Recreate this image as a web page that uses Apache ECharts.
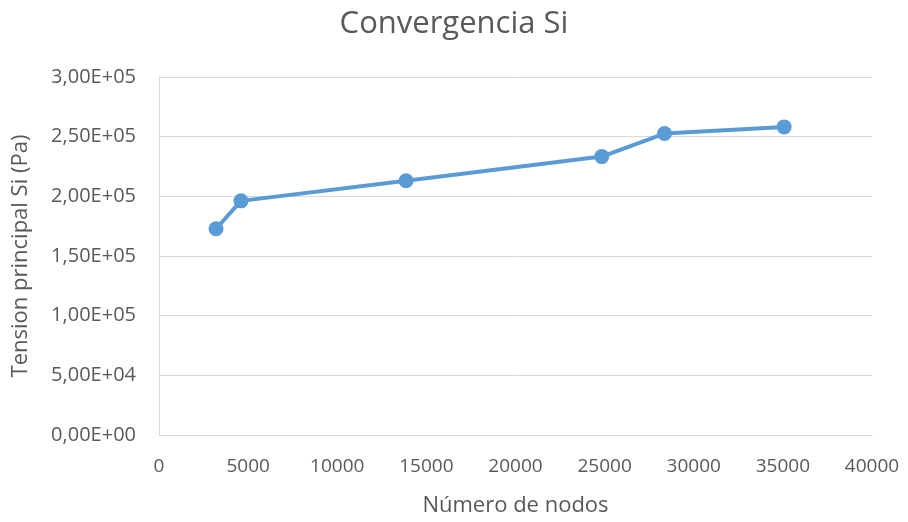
<!DOCTYPE html>
<html>
<head>
<meta charset="utf-8">
<script src="https://cdn.jsdelivr.net/npm/echarts@6/dist/echarts.min.js"></script>
<style>
  html, body { margin: 0; padding: 0; background: #fff; }
  #chart { width: 908px; height: 522px; }
</style>
</head>
<body>
<div id="chart"></div>
<script>
// numero de nodos vs tension principal
const nodos = [3200, 4600, 13860, 24840, 28360, 35070];
const tension = [172800, 196200, 213000, 233300, 252600, 258200];

const pares = nodos.map((n, i) => [n, tension[i]]);

// formato tipo Excel: 2,50E+05
function sci(v) {
    let s = Number(v).toExponential(2).split('e');
    let exp = parseInt(s[1], 10);
    let sign = exp < 0 ? '-' : '+';
    let e = String(Math.abs(exp)).padStart(2, '0');
    return s[0].replace('.', ',') + 'E' + sign + e;
}

const fuente = '"Open Sans", "Noto Sans", sans-serif';
const chart = echarts.init(document.getElementById('chart'));

chart.setOption({
    animation: false,
    title: {
        text: 'Convergencia Si',
        left: 'center',
        top: 4,
        textStyle: { fontFamily: fuente, fontSize: 31, fontWeight: 'normal', color: '#595959' }
    },
    grid: { left: 159, right: 36, top: 77, bottom: 87 },
    xAxis: {
        type: 'value',
        min: 0,
        max: 40000,
        interval: 5000,
        name: 'Número de nodos',
        nameLocation: 'middle',
        nameGap: 60,
        nameTextStyle: { fontFamily: fuente, fontSize: 22, color: '#595959' },
        axisLine: { show: true, lineStyle: { color: '#d9d9d9', width: 1 } },
        axisTick: { show: false },
        splitLine: { show: false },
        axisLabel: { fontFamily: fuente, fontSize: 19, color: '#595959', margin: 22, formatter: v => String(v) }
    },
    yAxis: {
        type: 'value',
        min: 0,
        max: 300000,
        interval: 50000,
        name: 'Tension principal Si (Pa)',
        nameLocation: 'middle',
        nameGap: 127,
        nameTextStyle: { fontFamily: fuente, fontSize: 22, color: '#595959' },
        axisLine: { show: true, lineStyle: { color: '#d9d9d9', width: 1 } },
        axisTick: { show: false },
        splitLine: { lineStyle: { color: '#d9d9d9', width: 1 } },
        axisLabel: { fontFamily: fuente, fontSize: 20, color: '#595959', margin: 23, formatter: sci }
    },
    series: [{
        type: 'line',
        data: pares,
        symbol: 'circle',
        symbolSize: 15,
        lineStyle: { color: '#5B9BD5', width: 4 },
        itemStyle: { color: '#5B9BD5' }
    }]
});
</script>
</body>
</html>
